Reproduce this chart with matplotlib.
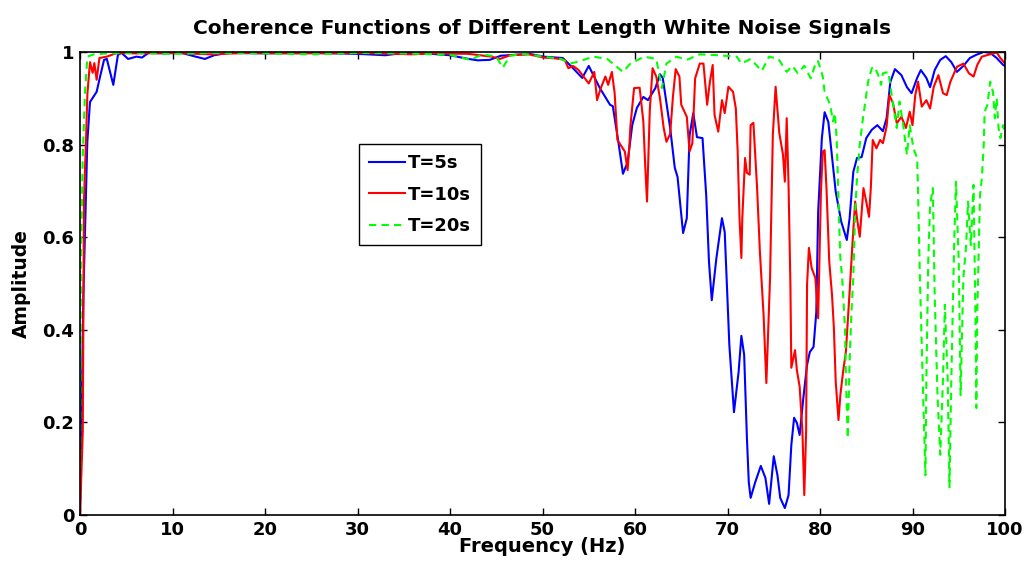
import matplotlib
matplotlib.use("Agg")
import matplotlib.pyplot as plt

# ---- data ----
f_5s = [0.0, 0.05, 0.36, 0.79, 1.08, 1.8, 2.16, 2.6, 2.9, 3.6, 4.1, 4.5, 5.2, 6.1, 6.7, 7.4,
        9.0, 11.0, 12.5, 13.5, 14.5, 16.0, 20.0, 25.0, 30.0, 33.0, 35.0, 38.0, 40.0, 42.0, 43.0,
        44.3, 45.5, 47.0, 48.6, 50.1, 52.2, 53.3, 54.3, 55.0, 56.2, 57.3, 57.6, 58.2, 58.7,
        59.2, 59.7, 60.2, 60.9, 61.4, 62.2, 62.7, 63.0, 63.8, 64.3, 64.6, 65.2, 65.6, 65.9,
        66.3, 66.7, 67.3, 67.7, 68.0, 68.3, 68.8, 69.4, 69.7, 70.2, 70.7, 71.2, 71.5, 71.8,
        72.1, 72.3, 72.5, 73.0, 73.6, 74.1, 74.5, 75.0, 75.4, 75.7, 76.2, 76.6, 76.9, 77.2,
        77.5, 77.8, 78.2, 78.6, 78.9, 79.3, 79.6, 79.8, 80.2, 80.5, 80.9, 81.7, 82.3, 82.9,
        83.2, 83.6, 84.0, 84.5, 85.0, 85.6, 86.2, 86.8, 87.2, 87.6, 88.1, 88.8, 89.4, 89.9,
        90.5, 90.9, 91.5, 91.9, 92.4, 93.0, 93.6, 94.2, 94.8, 95.5, 96.2, 96.9, 97.7, 98.4,
        99.1, 99.8, 100.0]
c_5s = [0.0, 0.05, 0.47, 0.806, 0.892, 0.914, 0.946, 0.983, 0.985, 0.929, 0.994, 0.998, 0.985,
        0.99, 0.988, 0.998, 0.997, 0.998, 0.99, 0.985, 0.993, 0.998, 0.997, 0.998, 0.996, 0.993,
        0.998, 0.996, 0.993, 0.985, 0.982, 0.983, 0.992, 0.994, 0.996, 0.99, 0.987, 0.965, 0.944,
        0.97, 0.922, 0.886, 0.883, 0.806, 0.737, 0.762, 0.842, 0.879, 0.903, 0.896, 0.922,
        0.952, 0.944, 0.836, 0.75, 0.73, 0.609, 0.641, 0.82, 0.868, 0.816, 0.814, 0.69, 0.546,
        0.464, 0.555, 0.641, 0.611, 0.367, 0.222, 0.309, 0.387, 0.346, 0.166, 0.071, 0.037,
        0.071, 0.106, 0.08, 0.024, 0.127, 0.086, 0.037, 0.015, 0.043, 0.151, 0.21, 0.199,
        0.173, 0.253, 0.324, 0.352, 0.363, 0.438, 0.654, 0.814, 0.87, 0.849, 0.698, 0.633,
        0.594, 0.641, 0.741, 0.771, 0.773, 0.814, 0.832, 0.842, 0.829, 0.857, 0.935, 0.963,
        0.95, 0.924, 0.911, 0.944, 0.961, 0.944, 0.924, 0.961, 0.983, 0.991, 0.978, 0.957,
        0.97, 0.987, 0.994, 1.0, 0.998, 0.987, 0.972, 0.97]

f_10s = [0.0, 0.3, 0.43, 0.65, 0.8, 1.08, 1.37, 1.55, 1.8, 2.1, 2.9, 4.0, 6.0, 10.0, 14.0,
         18.0, 24.0, 30.0, 36.0, 38.0, 42.0, 44.5, 45.4, 46.5, 48.5, 50.1, 51.5, 52.4, 52.8,
         53.3, 53.9, 55.0, 55.6, 55.9, 56.3, 56.8, 57.1, 57.5, 57.8, 58.1, 58.9, 59.2, 59.4,
         59.5, 59.9, 60.5, 60.9, 61.1, 61.3, 61.6, 61.9, 62.3, 62.7, 63.1, 63.4, 63.8, 64.1,
         64.4, 64.8, 65.0, 65.6, 65.9, 66.2, 66.5, 67.0, 67.4, 67.8, 68.1, 68.4, 68.6, 69.0,
         69.4, 69.7, 70.1, 70.6, 70.9, 71.1, 71.3, 71.5, 71.6, 71.9, 72.1, 72.4, 72.5, 72.8,
         73.2, 73.5, 73.9, 74.2, 74.6, 74.9, 75.2, 75.6, 76.0, 76.2, 76.4, 76.6, 76.8, 76.9,
         77.3, 77.5, 77.8, 78.1, 78.3, 78.5, 78.6, 78.8, 79.1, 79.5, 79.8, 80.1, 80.3, 80.5,
         80.7, 81.0, 81.3, 81.5, 81.7, 82.0, 82.2, 82.5, 82.8, 83.2, 83.5, 83.8, 84.0, 84.3,
         84.7, 85.0, 85.3, 85.5, 85.7, 86.1, 86.5, 86.8, 87.2, 87.5, 87.9, 88.3, 88.8, 89.3,
         89.7, 90.0, 90.3, 90.6, 91.0, 91.5, 91.9, 92.3, 92.8, 93.3, 93.7, 94.1, 94.8, 95.5,
         96.1, 96.6, 97.0, 97.5, 98.4, 99.1, 99.5, 99.8, 100.0]
c_10s = [0.0, 0.18, 0.68, 0.81, 0.91, 0.978, 0.955, 0.976, 0.94, 0.987, 0.99, 0.998, 0.997,
         0.998, 0.995, 0.998, 0.997, 0.998, 0.995, 0.997, 0.996, 0.99, 0.985, 0.993, 0.995,
         0.988, 0.986, 0.983, 0.965, 0.97, 0.961, 0.932, 0.957, 0.896, 0.922, 0.947, 0.929,
         0.957, 0.911, 0.81, 0.785, 0.745, 0.80, 0.839, 0.922, 0.923, 0.85, 0.756, 0.677,
         0.875, 0.965, 0.947, 0.90, 0.836, 0.806, 0.823, 0.903, 0.963, 0.947, 0.886, 0.86,
         0.785, 0.803, 0.943, 0.975, 0.975, 0.886, 0.936, 0.972, 0.864, 0.828, 0.896, 0.868,
         0.925, 0.914, 0.878, 0.785, 0.641, 0.555, 0.641, 0.771, 0.739, 0.735, 0.842, 0.847,
         0.706, 0.569, 0.432, 0.285, 0.512, 0.821, 0.925, 0.825, 0.778, 0.72, 0.857, 0.713,
         0.497, 0.318, 0.356, 0.313, 0.277, 0.18, 0.043, 0.18, 0.497, 0.577, 0.533, 0.512,
         0.425, 0.698, 0.785, 0.788, 0.706, 0.547, 0.475, 0.404, 0.288, 0.205, 0.259, 0.31,
         0.353, 0.482, 0.583, 0.677, 0.641, 0.601, 0.706, 0.677, 0.644, 0.709, 0.81, 0.792,
         0.81, 0.803, 0.839, 0.907, 0.889, 0.846, 0.86, 0.836, 0.871, 0.842, 0.907, 0.936,
         0.882, 0.896, 0.878, 0.925, 0.95, 0.911, 0.907, 0.936, 0.968, 0.975, 0.954, 0.947,
         0.972, 0.99, 0.995, 0.999, 0.987, 0.98, 0.975]

f_20s = [0.0, 0.1, 0.3, 0.54, 0.8, 1.5, 3.0, 6.0, 10.0, 15.0, 20.0, 25.0, 30.0, 35.0, 40.0,
         42.2, 43.5, 45.0, 45.7, 46.5, 48.0, 50.0, 52.0, 53.0, 54.0, 55.5, 57.0, 58.7, 59.5,
         61.0, 62.3, 62.9, 63.4, 64.5, 65.6, 67.0, 69.0, 71.0, 71.5, 72.5, 73.7, 74.5, 75.5,
         76.4, 77.0, 77.6, 78.3, 79.0, 79.6, 79.8, 80.3, 80.5, 81.1, 81.4, 81.6, 81.8, 82.1,
         82.2, 82.4, 82.7, 82.8, 83.0, 83.2, 83.4, 83.6, 83.8, 84.0, 84.3, 84.6, 84.9, 85.2,
         85.6, 85.9, 86.3, 86.6, 86.8, 87.4, 87.8, 88.3, 88.6, 89.0, 89.4, 89.7, 90.1, 90.5,
         90.6, 90.8, 91.0, 91.2, 91.4, 91.5, 91.7, 91.9, 92.2, 92.4, 92.7, 93.0, 93.3, 93.5,
         93.8, 94.0, 94.2, 94.5, 94.7, 95.0, 95.2, 95.5, 95.8, 96.0, 96.3, 96.6, 96.8, 96.9,
         97.0, 97.3, 97.5, 97.7, 97.8, 98.1, 98.4, 98.7, 98.9, 99.1, 99.3, 99.5, 99.8, 100.0]
c_20s = [0.1, 0.55, 0.774, 0.914, 0.99, 0.995, 0.997, 0.998, 0.996, 0.998, 0.997, 0.995,
         0.998, 0.997, 0.994, 0.983, 0.995, 0.99, 0.966, 0.992, 0.996, 0.99, 0.985, 0.975,
         0.98, 0.99, 0.985, 0.957, 0.975, 0.99, 0.985, 0.922, 0.975, 0.99, 0.983, 0.995,
         0.993, 0.99, 0.975, 0.985, 0.959, 0.99, 0.985, 0.957, 0.97, 0.954, 0.97, 0.943, 0.98,
         0.98, 0.947, 0.914, 0.886, 0.85, 0.868, 0.814, 0.612, 0.555, 0.512, 0.404, 0.296,
         0.166, 0.331, 0.439, 0.512, 0.655, 0.728, 0.80, 0.85, 0.893, 0.936, 0.965, 0.968,
         0.95, 0.929, 0.954, 0.957, 0.90, 0.836, 0.893, 0.842, 0.778, 0.842, 0.792, 0.771,
         0.698, 0.512, 0.367, 0.223, 0.086, 0.296, 0.547, 0.67, 0.706, 0.475, 0.259, 0.13,
         0.296, 0.454, 0.296, 0.06, 0.296, 0.583, 0.72, 0.547, 0.259, 0.512, 0.583, 0.677,
         0.583, 0.713, 0.439, 0.231, 0.439, 0.691, 0.728, 0.80, 0.871, 0.886, 0.936, 0.914,
         0.857, 0.90, 0.836, 0.814, 0.842, 0.82]

labels = ["T=5s", "T=10s", "T=20s"]
x_ticks = list(range(0, 101, 10))
y_ticks = [0, 0.2, 0.4, 0.6, 0.8, 1]
y_tick_labels = ["0", "0.2", "0.4", "0.6", "0.8", "1"]

# ---- figure ----
plt.rcParams['font.family'] = ['DejaVu Sans']
plt.rcParams['font.weight'] = 'bold'
fig = plt.figure(figsize=(10.29, 5.65), dpi=100)
ax = fig.add_axes([80 / 1029, 50 / 565, 925 / 1029, 463 / 565])

ax.plot(f_5s, c_5s, color='#0000ff', lw=1.5, label=labels[0])
ax.plot(f_10s, c_10s, color='#ff0000', lw=1.5, label=labels[1])
ax.plot(f_20s, c_20s, color='#00ff00', lw=1.5, linestyle=(0, (3.5, 2.5)), label=labels[2])

ax.set_xlim(0, 100)
ax.set_ylim(0, 1)
ax.set_xticks(x_ticks)
ax.set_yticks(y_ticks)
ax.set_yticklabels(y_tick_labels)
ax.tick_params(direction='in', top=True, right=True, length=5, width=1,
               labelsize=13, pad=4)
for lab in ax.get_xticklabels() + ax.get_yticklabels():
    lab.set_fontweight('bold')
for s in ax.spines.values():
    s.set_linewidth(1.2)

ax.set_title("Coherence Functions of Different Length White Noise Signals",
             fontsize=14.5, fontweight='bold', pad=13)
ax.set_xlabel("Frequency (Hz)", fontsize=14, fontweight='bold', labelpad=-1)
ax.set_ylabel("Amplitude", fontsize=13.5, fontweight='bold', labelpad=8)

leg = ax.legend(loc='upper left', bbox_to_anchor=(0.3016, 0.801), borderaxespad=0,
                fancybox=False, edgecolor='black', framealpha=1,
                prop={'size': 13, 'weight': 'bold'},
                handlelength=2.0, handletextpad=0.15, borderpad=0.55, labelspacing=0.75)
leg.get_frame().set_linewidth(1.0)

fig.savefig("out.png", dpi=100)
